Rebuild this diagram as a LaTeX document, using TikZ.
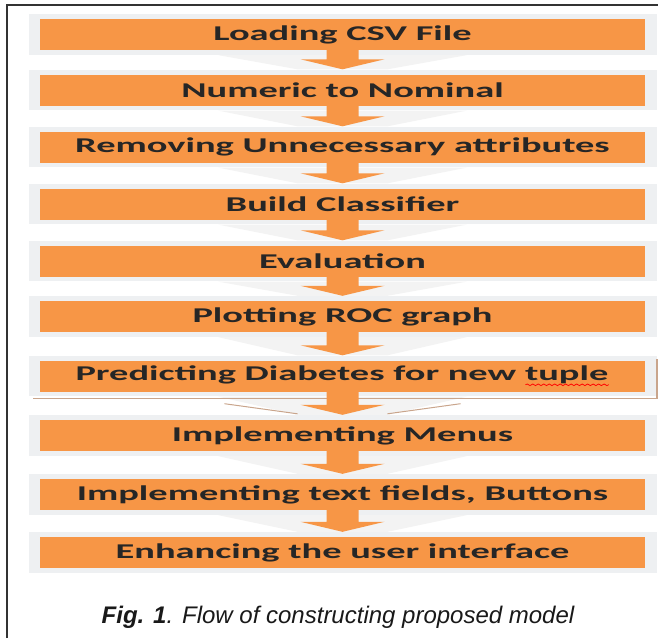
\documentclass[tikz,border=0pt]{standalone}
\usepackage{fontspec}
\setmainfont{Carlito}
\newfontfamily\capfont{Liberation Sans}
\usetikzlibrary{calc,backgrounds,decorations.pathmorphing}
\definecolor{boxorange}{HTML}{F79646}
\definecolor{shadowgray}{HTML}{EEF0F2}
\definecolor{reflgray}{HTML}{F3F3F3}
\definecolor{tanline}{HTML}{C9A58C}
\newcommand\wide[1]{\scalebox{1.83}[1]{#1}}
\newsavebox\wavebox
\newcommand\redwave[1]{\sbox\wavebox{#1}\rlap{\usebox\wavebox}\raisebox{-5pt}{\tikz[x=1pt,y=1pt]\draw[red,line width=0.6pt,decorate,decoration={snake,amplitude=0.8pt,segment length=3pt}] (0,0) -- (\wd\wavebox,0);}}
\tikzset{
  stepbox/.style={fill=boxorange, minimum width=605pt, minimum height=31pt, inner sep=0pt,
    font=\bfseries\fontsize{21}{21}\selectfont, text=black!85},
  shadowbox/.style={fill=shadowgray},
  reflbox/.style={fill=reflgray},
  flowfill/.style={fill=boxorange},
  tanstroke/.style={draw=tanline, line width=1.5pt}
}
\newcommand\flowarrow[2]{%
  \fill[flowfill] ($(#1.south)+(-16,0)$) -- ($(#1.south)+(16,0)$) -- ($(#2.north)+(16,-15)$) --
    ($(#2.north)+(42,-15)$) -- ($(#2.north)+(0,-5)$) -- ($(#2.north)+(-42,-15)$) --
    ($(#2.north)+(-16,-15)$) -- cycle;}
\newcommand\reflect[2]{%
  \begin{pgfonlayer}{background}
  \fill[reflbox] ($(#1.south)+(-124,5)$) -- ($(#1.south)+(124,5)$) -- ($(#2.north)+(45,-5)$) -- ($(#2.north)+(-45,-5)$) -- cycle;
  \end{pgfonlayer}}
\newcommand\shadebox[1]{%
  \begin{pgfonlayer}{background}
  \fill[shadowbox] ($(#1.north west)+(-11,-4.5)$) rectangle ($(#1.south east)+(12,4.5)$);
  \end{pgfonlayer}}
\begin{document}
\begin{tikzpicture}[x=1pt,y=-1pt]
\useasboundingbox (0,0) rectangle (658,638);
\draw[line width=1.5pt, black!80] (7,638) -- (7,5) -- (658,5);

\node[stepbox] (b1) at (342.5,34.5) {\wide{Loading CSV File}};
\node[stepbox] (b2) at (342.5,90) {\wide{Numeric to Nominal}};
\node[stepbox] (b3) at (342.5,147) {\wide{Removing Unnecessary attributes}};
\node[stepbox] (b4) at (342.5,204) {\wide{Build Classifier}};
\node[stepbox] (b5) at (342.5,261) {\wide{Evaluation}};
\node[stepbox] (b6) at (342.5,316.5) {\wide{Plotting ROC graph}};
\node[stepbox] (b7) at (342.5,376) {\wide{Predicting Diabetes for new \redwave{tuple}}};
\node[stepbox] (b8) at (342.5,435.5) {\wide{Implementing Menus}};
\node[stepbox] (b9) at (342.5,494.5) {\wide{Implementing text fields, Buttons}};
\node[stepbox] (b10) at (342.5,552.5) {\wide{Enhancing the user interface}};

\shadebox{b1}\shadebox{b2}\shadebox{b3}\shadebox{b4}\shadebox{b5}
\shadebox{b6}\shadebox{b7}\shadebox{b8}\shadebox{b9}\shadebox{b10}
\reflect{b1}{b2}\reflect{b2}{b3}\reflect{b3}{b4}\reflect{b4}{b5}\reflect{b5}{b6}
\reflect{b6}{b7}\reflect{b7}{b8}\reflect{b8}{b9}\reflect{b9}{b10}

\draw[tanstroke] ($(b7.north east)+(12,-1)$) -- ($(b7.south east)+(12,7)$) -- ($(b7.south west)+(-7,7)$);
\draw[draw=tanline, line width=1pt] ($(b7.south)+(-118,12)$) -- ($(b8.north)+(-45,-6)$);
\draw[draw=tanline, line width=1pt] ($(b7.south)+(118,12)$) -- ($(b8.north)+(45,-6)$);

\flowarrow{b1}{b2}\flowarrow{b2}{b3}\flowarrow{b3}{b4}\flowarrow{b4}{b5}\flowarrow{b5}{b6}
\flowarrow{b6}{b7}\flowarrow{b7}{b8}\flowarrow{b8}{b9}\flowarrow{b9}{b10}

\node[font=\capfont\itshape\fontsize{24}{24}\selectfont, text=black!90] (cap) at (338,617)
  {\textbf{Fig. 1}. Flow of constructing proposed model};
\end{tikzpicture}
\end{document}
